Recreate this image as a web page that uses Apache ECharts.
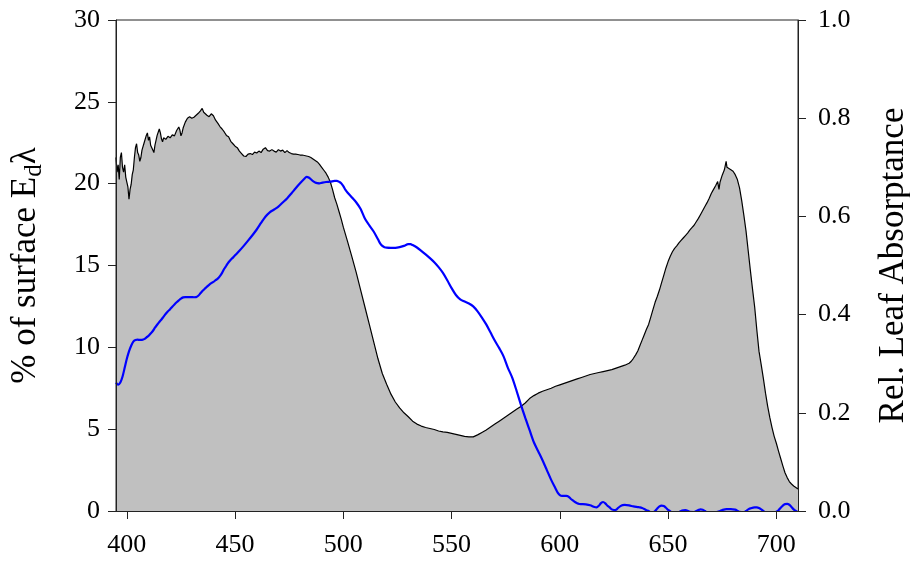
<!DOCTYPE html>
<html>
<head>
<meta charset="utf-8">
<script src="https://cdn.jsdelivr.net/npm/echarts@6/dist/echarts.min.js"></script>
<style>
  html, body { margin: 0; padding: 0; background: #ffffff; }
  #chart { width: 910px; height: 569px; }
</style>
</head>
<body>
<div id="chart"></div>
<script>
// Wavelength ticks (nm)
const wavelengthTicks = [400, 450, 500, 550, 600, 650, 700];

// Relative leaf absorptance (right axis), shaded grey
const absNm = [395,395.5,396,396.5,397,397.5,398,398.5,399,399.5,400,400.5,401,401.5,402,402.5,403,403.5,404,404.5,405,405.5,406,406.5,407,408,409,409.5,410,410.5,411,412,412.5,413,414,415,415.5,416,416.5,417,418,419,420,421,422,423,424,424.5,425,425.5,426,427,428,429,430,431,432,433,434,434.8,435.5,436,437,438,439,440,441,442,443,444,445,446,447,448,449,450,451,452,453,454,455,456,457,458,459,460,461,462,463,464,465,466,467,468,469,470,471,472,473,474,475,476,477,478,479,480,481,482,483,484,485,486,487,488,489,490,491,492,493,494,495,496,497,498,499,500,502,504,506,508,510,512,514,516,518,520,522,524,526,528,530,532,534,536,538,540,542,544,546,548,550,552,554,556,558,560,562,564,566,568,570,572,574,576,578,580,582,584,586,588,590,592,594,596,598,600,602,604,606,608,610,612,614,616,618,620,622,624,626,628,630,632,633,634,635,636,637,638,639,640,641,642,643,644,645,646,647,648,649,650,651,652,653,654,655,656,657,658,659,660,661,662,663,664,665,666,667,668,669,670,671,672,672.9,673.5,674,675,676,676.8,677.2,678,679,680,681,682,683,684,685,686,687,688,689,690,691,692,693,694,695,696,697,698,699,700,701,702,703,704,705,706,707,708,709,710];
const absVal = [.720,.690,.705,.675,.720,.730,.700,.690,.705,.680,.670,.660,.635,.655,.665,.685,.695,.720,.740,.748,.730,.725,.712,.720,.735,.750,.765,.770,.755,.762,.745,.735,.730,.745,.765,.778,.770,.758,.752,.760,.757,.763,.760,.766,.764,.775,.782,.776,.764,.770,.780,.792,.800,.803,.800,.802,.806,.810,.815,.820,.812,.808,.806,.803,.809,.805,.796,.790,.783,.778,.772,.765,.762,.753,.748,.743,.740,.733,.728,.723,.722,.727,.728,.726,.731,.729,.733,.730,.737,.740,.734,.733,.736,.733,.731,.736,.733,.735,.730,.734,.730,.728,.727,.727,.726,.725,.725,.724,.723,.722,.720,.717,.714,.711,.706,.700,.694,.688,.680,.670,.655,.638,.625,.610,.595,.578,.548,.517,.485,.450,.415,.380,.345,.310,.280,.258,.238,.222,.210,.200,.192,.183,.177,.173,.170,.168,.166,.163,.161,.160,.158,.156,.154,.152,.151,.151,.155,.160,.165,.171,.177,.183,.189,.195,.201,.207,.213,.220,.229,.235,.240,.244,.247,.250,.254,.257,.260,.263,.266,.269,.272,.275,.278,.280,.282,.284,.286,.288,.291,.294,.297,.301,.305,.311,.318,.326,.337,.348,.359,.370,.380,.395,.410,.425,.437,.450,.465,.480,.495,.508,.519,.528,.535,.540,.546,.551,.556,.561,.566,.572,.577,.582,.589,.596,.604,.612,.620,.628,.637,.647,.655,.663,.671,.655,.670,.684,.695,.712,.700,.697,.695,.692,.685,.675,.658,.632,.602,.570,.530,.490,.452,.415,.368,.325,.298,.270,.240,.213,.190,.170,.152,.138,.122,.107,.092,.078,.068,.060,.055,.051,.048,.045];

// Downwelling irradiance as % of surface (left axis), blue line
const edNm = [395,396,397,398,399,400,401,402,403,404,405,406,407,408,409,410,411,412,413,414,415,416,417,418,419,420,421,422,423,424,425,426,427,428,429,430,431,432,433,434,435,436,437,438,439,440,441,442,443,444,445,446,447,448,449,450,452,454,456,458,460,462,464,466,468,470,472,474,476,478,480,482,483,484,485,486,487,488,489,490,492,494,496,497,498,499,500,501,502,504,506,508,510,512,514,516,517,518,519,520,522,524,526,528,530,531,532,534,536,538,540,542,544,546,548,550,552,554,556,558,560,562,564,566,568,570,572,574,576,578,580,582,584,586,588,590,592,594,596,598,599,600,601,602,603,604,605,606,607,608,609,610,612,614,616,617,618,619,620,621,622,623,624,625,626,627,628,629,630,632,634,636,637,638,639,640,641,642,643,644,645,646,647,648,649,650,651,652,653,654,655,656,657,658,659,660,662,663,664,665,666,667,668,670,672,674,675,677,679,681,682,683,685,686,687,688,690,691,692,693,694,695,697,699,700,701,702,703,704,705,706,707,708,709,710];
const edVal = [7.85,7.72,7.85,8.2,8.75,9.3,9.75,10.1,10.35,10.45,10.47,10.45,10.46,10.5,10.6,10.7,10.85,11.0,11.2,11.38,11.55,11.7,11.88,12.05,12.2,12.33,12.48,12.62,12.75,12.87,12.98,13.05,13.07,13.07,13.07,13.07,13.06,13.07,13.15,13.3,13.45,13.58,13.7,13.82,13.92,14.0,14.1,14.2,14.35,14.55,14.8,15.0,15.2,15.35,15.48,15.62,15.9,16.2,16.52,16.85,17.2,17.6,17.98,18.25,18.42,18.6,18.85,19.1,19.4,19.72,20.02,20.3,20.42,20.38,20.27,20.15,20.07,20.03,20.02,20.05,20.1,20.12,20.17,20.17,20.12,20.03,19.85,19.62,19.45,19.15,18.85,18.45,17.85,17.45,17.08,16.6,16.35,16.2,16.12,16.09,16.08,16.08,16.12,16.2,16.3,16.3,16.25,16.1,15.9,15.68,15.45,15.2,14.9,14.55,14.1,13.62,13.2,12.93,12.8,12.68,12.5,12.2,11.82,11.4,10.9,10.4,9.95,9.45,8.75,8.15,7.35,6.5,5.7,4.95,4.2,3.65,3.1,2.5,1.9,1.38,1.12,0.97,0.92,0.92,0.93,0.88,0.75,0.65,0.55,0.47,0.43,0.42,0.40,0.35,0.24,0.22,0.32,0.48,0.55,0.47,0.32,0.22,0.10,0.06,0.08,0.2,0.3,0.36,0.37,0.34,0.28,0.24,0.22,0.18,0.12,0.05,0.0,-0.08,-0.08,0.0,0.15,0.28,0.33,0.30,0.2,0.07,-0.02,-0.12,-0.18,-0.15,-0.08,0.0,0.04,0.05,0.02,-0.05,-0.06,0.0,0.06,0.1,0.08,0.0,-0.1,-0.15,-0.08,0.0,0.06,0.12,0.12,0.08,0.02,-0.05,-0.08,0.0,0.1,0.16,0.22,0.22,0.18,0.1,0.0,-0.08,-0.12,-0.1,-0.05,0.05,0.2,0.33,0.42,0.43,0.38,0.25,0.1,0.0,-0.08];

const zip = (xs, ys) => xs.map((x, i) => [x, ys[i]]);

const FONT = 'Liberation Serif';
const AXIS_COLOR = '#222';
const TICK_FONT = 26;
const TITLE_FONT = 35;

const chart = echarts.init(document.getElementById('chart'), null, { renderer: 'canvas' });

chart.setOption({
  animation: false,
  backgroundColor: '#ffffff',
  grid: {
    left: 116, right: 112, top: 20, bottom: 58,
    outerBoundsMode: 'none',
    containLabel: false,
    show: true, borderColor: AXIS_COLOR, borderWidth: 1,
    backgroundColor: 'transparent'
  },
  xAxis: {
    type: 'value',
    min: 395, max: 710,
    z: 5,
    axisLine: { show: true, lineStyle: { color: AXIS_COLOR, width: 1 } },
    axisTick: { show: true, length: 8, customValues: wavelengthTicks, lineStyle: { color: AXIS_COLOR } },
    axisLabel: {
      customValues: wavelengthTicks,
      color: '#000', fontFamily: FONT, fontSize: TICK_FONT, margin: 21
    },
    splitLine: { show: false }
  },
  yAxis: [
    {
      type: 'value',
      position: 'left',
      min: 0, max: 30, interval: 5,
      z: 5,
      name: '{a|% of surface E}{b|d}{a|λ}',
      nameLocation: 'middle',
      nameRotate: 90,
      nameGap: 69,
      nameTextStyle: {
        rich: {
          a: { fontFamily: FONT, fontSize: TITLE_FONT, color: '#000', lineHeight: 42 },
          b: { fontFamily: FONT, fontSize: 25, color: '#000', lineHeight: 42, verticalAlign: 'bottom' }
        }
      },
      axisLine: { show: true, lineStyle: { color: AXIS_COLOR, width: 1 } },
      axisTick: { show: true, length: 8, lineStyle: { color: AXIS_COLOR } },
      axisLabel: { color: '#000', fontFamily: FONT, fontSize: TICK_FONT, margin: 16 },
      splitLine: { show: false }
    },
    {
      type: 'value',
      position: 'right',
      min: 0, max: 1, interval: 0.2,
      z: 5,
      name: 'Rel. Leaf Absorptance',
      nameLocation: 'middle',
      nameRotate: 90,
      nameGap: 78,
      nameTextStyle: { fontFamily: FONT, fontSize: TITLE_FONT, color: '#000' },
      axisLine: { show: true, lineStyle: { color: AXIS_COLOR, width: 1 } },
      axisTick: { show: true, length: 8, lineStyle: { color: AXIS_COLOR } },
      axisLabel: {
        color: '#000', fontFamily: FONT, fontSize: TICK_FONT, margin: 20,
        formatter: v => v.toFixed(1)
      },
      splitLine: { show: false }
    }
  ],
  series: [
    {
      name: 'Absorptance',
      type: 'line',
      yAxisIndex: 1,
      data: zip(absNm, absVal),
      symbol: 'none',
      lineStyle: { color: '#000', width: 1.2 },
      areaStyle: { color: '#c0c0c0', opacity: 1 },
      z: 2
    },
    {
      name: 'Ed',
      type: 'line',
      yAxisIndex: 0,
      data: zip(edNm, edVal),
      symbol: 'none',
      smooth: 0.3,
      clip: true,
      lineStyle: { color: '#0000ff', width: 2.2 },
      z: 3
    }
  ]
});
</script>
</body>
</html>
